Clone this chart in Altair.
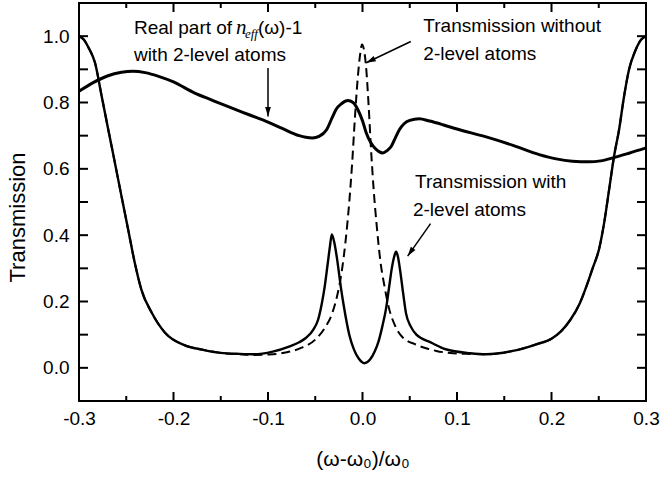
import math
import altair as alt
import pandas as pd

# ---------------- data ----------------
# Transmission with 2-level atoms (solid)
x_with = [-0.300, -0.295, -0.290, -0.283, -0.276, -0.269, -0.262, -0.255, -0.248, -0.241,
          -0.234, -0.223, -0.209, -0.188, -0.170, -0.150, -0.130, -0.115, -0.095, -0.077,
          -0.067, -0.060, -0.052, -0.047, -0.043, -0.040, -0.037, -0.0345, -0.0325, -0.030,
          -0.027, -0.023, -0.020, -0.014, -0.009, -0.004, 0.002, 0.008, 0.013, 0.017,
          0.021, 0.025, 0.028, 0.031, 0.0335, 0.0355, 0.0375, 0.040, 0.043, 0.046,
          0.051, 0.057, 0.063, 0.071, 0.088, 0.114, 0.131, 0.159, 0.184, 0.200,
          0.210, 0.220, 0.230, 0.2375, 0.2435, 0.2505, 0.2557, 0.261, 0.2662, 0.2715,
          0.2768, 0.282, 0.2891, 0.295, 0.300]
y_with = [1.000, 0.990, 0.966, 0.919, 0.819, 0.718, 0.618, 0.517, 0.417, 0.317,
          0.236, 0.166, 0.106, 0.068, 0.055, 0.045, 0.042, 0.041, 0.049, 0.065,
          0.077, 0.090, 0.115, 0.145, 0.195, 0.245, 0.310, 0.365, 0.402, 0.380,
          0.330, 0.245, 0.190, 0.100, 0.055, 0.028, 0.014, 0.025, 0.050, 0.080,
          0.125, 0.180, 0.240, 0.300, 0.335, 0.350, 0.335, 0.290, 0.225, 0.165,
          0.125, 0.100, 0.088, 0.078, 0.056, 0.044, 0.041, 0.051, 0.071, 0.088,
          0.110, 0.145, 0.195, 0.250, 0.300, 0.360, 0.437, 0.538, 0.638, 0.718,
          0.819, 0.899, 0.959, 0.990, 1.000]

# Transmission without 2-level atoms (dashed)
x_without = [-0.300, -0.295, -0.290, -0.283, -0.276, -0.269, -0.262, -0.255, -0.248, -0.241,
             -0.234, -0.223, -0.209, -0.188, -0.170, -0.150, -0.130, -0.115, -0.100, -0.090,
             -0.080, -0.065, -0.050, -0.040, -0.032, -0.027, -0.022, -0.018, -0.014, -0.011,
             -0.008, -0.005, -0.0025, -0.0005, 0.0015, 0.004, 0.0065, 0.009, 0.012, 0.015,
             0.019, 0.023, 0.028, 0.034, 0.040, 0.047, 0.055, 0.060, 0.070, 0.078,
             0.096, 0.114, 0.131, 0.159, 0.184, 0.200, 0.210, 0.220, 0.230, 0.2375,
             0.2435, 0.2505, 0.2557, 0.261, 0.2662, 0.2715, 0.2768, 0.282, 0.2891, 0.295,
             0.300]
y_without = [1.000, 0.990, 0.966, 0.919, 0.819, 0.718, 0.618, 0.517, 0.417, 0.317,
             0.236, 0.166, 0.106, 0.068, 0.055, 0.045, 0.041, 0.039, 0.040, 0.042,
             0.047, 0.060, 0.085, 0.120, 0.165, 0.215, 0.290, 0.380, 0.500, 0.615,
             0.755, 0.875, 0.945, 0.975, 0.960, 0.900, 0.790, 0.660, 0.530, 0.430,
             0.320, 0.250, 0.180, 0.130, 0.100, 0.082, 0.072, 0.066, 0.057, 0.051,
             0.044, 0.042, 0.041, 0.051, 0.071, 0.088, 0.110, 0.145, 0.195, 0.250,
             0.300, 0.360, 0.437, 0.538, 0.638, 0.718, 0.819, 0.899, 0.959, 0.990,
             1.000]

# Real part of n_eff(w)-1 with 2-level atoms (thick solid)
x_real = [-0.300, -0.285, -0.270, -0.255, -0.243, -0.230, -0.215, -0.200, -0.178, -0.160,
          -0.140, -0.120, -0.100, -0.085, -0.067, -0.060, -0.053, -0.046, -0.038, -0.032,
          -0.028, -0.022, -0.0155, -0.010, -0.005, 0.000, 0.004, 0.009, 0.013, 0.0175,
          0.0215, 0.026, 0.0305, 0.035, 0.039, 0.044, 0.050, 0.060, 0.071, 0.085,
          0.100, 0.130, 0.160, 0.187, 0.205, 0.222, 0.240, 0.252, 0.265, 0.282, 0.300]
y_real = [0.834, 0.860, 0.880, 0.891, 0.894, 0.890, 0.878, 0.862, 0.829, 0.808,
          0.785, 0.763, 0.741, 0.722, 0.700, 0.695, 0.693, 0.698, 0.718, 0.755,
          0.779, 0.797, 0.806, 0.800, 0.779, 0.745, 0.708, 0.678, 0.663, 0.652,
          0.648, 0.655, 0.668, 0.695, 0.718, 0.736, 0.746, 0.751, 0.744, 0.733,
          0.720, 0.697, 0.670, 0.643, 0.630, 0.623, 0.621, 0.624, 0.633, 0.647, 0.663]

# axis ticks
x_major = [-0.3, -0.2, -0.1, 0.0, 0.1, 0.2, 0.3]
x_minor = [-0.25, -0.15, -0.05, 0.05, 0.15, 0.25]
y_ticks = [0.0, 0.1, 0.2, 0.3, 0.4, 0.5, 0.6, 0.7, 0.8, 0.9, 1.0]
y_labels = [0.0, 0.2, 0.4, 0.6, 0.8, 1.0]

# annotations
ann_text = ["with 2-level atoms", "Transmission without", "2-level atoms",
            "Transmission with", "2-level atoms"]
ann_x = [-0.2419, 0.0644, 0.0644, 0.0556, 0.0534]
ann_y = [0.944, 1.030, 0.946, 0.560, 0.477]

rich_x, rich_y = -0.2419, 1.0256

arrow_x1 = [-0.1, 0.0511, 0.072]
arrow_y1 = [0.904, 0.984, 0.435]
arrow_x2 = [-0.1, 0.004, 0.0478]
arrow_y2 = [0.758, 0.920, 0.337]

# ---------------- chart ----------------
W, H = 567, 398
X_DOM = [-0.3, 0.3]
Y_DOM = [-0.1, 1.1]
FONT = "Liberation Sans"
SERIF = "Liberation Serif"
FS = 19

xs = alt.Scale(domain=X_DOM, nice=False, zero=False)
ys = alt.Scale(domain=Y_DOM, nice=False, zero=False)

x_axis = alt.Axis(values=x_major,
                  labelExpr="datum.value < 0 ? '-' + format(-datum.value, '.1f') : format(datum.value, '.1f')",
                  title="(ω-ω₀)/ω₀", domain=False, ticks=False, grid=False,
                  labelFontSize=FS, labelPadding=8, titleFontSize=21,
                  titleFontWeight="normal", titlePadding=20, labelFlush=False,
                  labelOverlap=False, labelColor="black", titleColor="black")
y_axis = alt.Axis(values=y_labels, format=".1f", title="Transmission",
                  domain=False, ticks=False, grid=False, labelFontSize=FS,
                  labelPadding=10, titleFontSize=22, titleFontWeight="normal",
                  titlePadding=13, titleY=214, labelOverlap=False,
                  labelColor="black", titleColor="black")

XE = alt.X("x:Q", scale=xs, axis=x_axis)
YE = alt.Y("y:Q", scale=ys, axis=y_axis)

df_with = pd.DataFrame({"x": x_with, "y": y_with})
df_without = pd.DataFrame({"x": x_without, "y": y_without})
df_real = pd.DataFrame({"x": x_real, "y": y_real})

dashed = alt.Chart(df_without).mark_line(
    color="black", strokeWidth=2, strokeDash=[9, 5], interpolate="monotone"
).encode(x=XE, y=YE)

with_line = alt.Chart(df_with).mark_line(
    color="black", strokeWidth=2.4, interpolate="monotone"
).encode(x=XE, y=YE)

real_line = alt.Chart(df_real).mark_line(
    color="black", strokeWidth=3, interpolate="monotone"
).encode(x=XE, y=YE)

# inward ticks
df_xmaj = pd.DataFrame({"x": x_major})
df_xmin = pd.DataFrame({"x": x_minor})
df_yt = pd.DataFrame({"y": y_ticks})
tick_layers = []
for df, ln in [(df_xmaj, 9), (df_xmin, 5)]:
    for y0, y1 in [(H, H - ln), (0, ln)]:
        tick_layers.append(alt.Chart(df).mark_rule(color="black", strokeWidth=2).encode(
            x=XE, y=alt.value(y0), y2=alt.value(y1)))
for x0, x1 in [(0, 9), (W, W - 9)]:
    tick_layers.append(alt.Chart(df_yt).mark_rule(color="black", strokeWidth=2).encode(
        y=YE, x=alt.value(x0), x2=alt.value(x1)))

# annotations
df_ann = pd.DataFrame({"t": ann_text, "x": ann_x, "y": ann_y})
ann = alt.Chart(df_ann).mark_text(align="left", baseline="middle", font=FONT,
                                  fontSize=FS, color="black").encode(
    x=XE, y=YE, text="t:N")

df_rich = pd.DataFrame({"x": [rich_x], "y": [rich_y]})
rich_parts = [("Real part of", FONT, "normal", FS, 0, 0),
              ("n", SERIF, "italic", 21, 102, 0),
              ("eff", SERIF, "italic", 13, 111, 6),
              ("(ω)-1", FONT, "normal", FS, 124, 0)]
rich_layers = []
for txt, fnt, sty, size, dx, dy in rich_parts:
    rich_layers.append(alt.Chart(df_rich).mark_text(
        align="left", baseline="middle", font=fnt, fontStyle=sty, fontSize=size,
        dx=dx, dy=dy, color="black", text=txt).encode(x=XE, y=YE))

# arrows
df_arr = pd.DataFrame({"x": arrow_x1, "y": arrow_y1, "xe": arrow_x2, "ye": arrow_y2})
arrow_lines = alt.Chart(df_arr).mark_rule(color="black", strokeWidth=1.5).encode(
    x=XE, y=YE, x2="xe:Q", y2="ye:Q")
px_x = W / (X_DOM[1] - X_DOM[0])
px_y = H / (Y_DOM[1] - Y_DOM[0])
head_layers = []
HEAD = "M0,0 L0.6,2 L-0.6,2 Z"
for a, b, c, d in zip(arrow_x1, arrow_y1, arrow_x2, arrow_y2):
    dxp = (c - a) * px_x
    dyp = -(d - b) * px_y
    ang = math.degrees(math.atan2(dxp, -dyp)) % 360
    head_layers.append(alt.Chart(pd.DataFrame({"x": [c], "y": [d]})).mark_point(
        shape=HEAD, filled=True, color="black", opacity=1, size=90, angle=ang,
        strokeWidth=0).encode(x=XE, y=YE))

chart = alt.layer(
    dashed, with_line, real_line, *tick_layers, ann, *rich_layers, arrow_lines, *head_layers
).properties(
    width=W, height=H,
    padding={"left": 79, "top": 3, "right": 16, "bottom": 82},
    autosize=alt.AutoSizeParams(type="none"),
).configure(
    font=FONT, background="white"
).configure_view(stroke="black", strokeWidth=2)

chart.save("out.html", embed_options={"renderer": "svg", "actions": False})
